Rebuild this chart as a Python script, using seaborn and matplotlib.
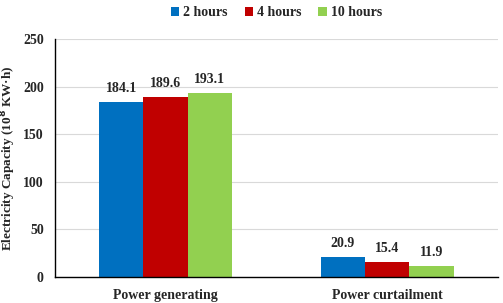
import matplotlib
matplotlib.use("Agg")
import matplotlib.pyplot as plt
import seaborn as sns
import pandas as pd

categories = ["Power generating", "Power curtailment"]
series = ["2 hours", "4 hours", "10 hours"]
values_2h = [184.1, 20.9]
values_4h = [189.6, 15.4]
values_10h = [193.1, 11.9]
colors = ["#0070C0", "#C00000", "#92D050"]

rows = []
for s, vals in zip(series, [values_2h, values_4h, values_10h]):
    for c, v in zip(categories, vals):
        rows.append({"Category": c, "Series": s, "Value": v})
df = pd.DataFrame(rows)

sns.set_style("white")
plt.rcParams["font.family"] = ["Liberation Serif", "DejaVu Serif"]
plt.rcParams["font.weight"] = "bold"

fig = plt.figure(figsize=(5.03, 3.03), dpi=100)
ax = fig.add_axes([0.109, 0.086, 0.881, 0.785])
sns.barplot(data=df, x="Category", y="Value", hue="Series", palette=colors,
            width=0.6, gap=0, saturation=1, ax=ax, errorbar=None, linewidth=0)

for cont in ax.containers:
    ax.bar_label(cont, fmt="%.1f", padding=5, fontsize=10, fontweight="bold")

ax.set_ylim(0, 250)
ax.set_xlim(-0.5, 1.5)
ax.set_yticks([0, 50, 100, 150, 200, 250])
ax.tick_params(axis="y", length=0, labelsize=10, pad=8)
ax.tick_params(axis="x", which="major", length=0, labelsize=10, pad=9)
ax.set_xticks([-0.5, 0.5, 1.5], minor=True)
ax.tick_params(axis="x", which="minor", length=4, direction="out", color="black")
ax.yaxis.grid(True, color="#D9D9D9", linewidth=0.8)
ax.set_axisbelow(True)
for sp in ["top", "right"]:
    ax.spines[sp].set_visible(False)
for sp in ["left", "bottom"]:
    ax.spines[sp].set_color("black")
    ax.spines[sp].set_linewidth(1.0)
ax.set_xlabel("")
ax.set_ylabel("Electricity Capacity (10$^8$ KW·h)", fontsize=9.5, fontweight="bold")
ax.yaxis.set_label_coords(-0.082, 0.5)

ax.legend(loc="center", bbox_to_anchor=(0.5, 1.11), ncol=3, frameon=False,
          handlelength=0.6, handleheight=0.6, handletextpad=0.3,
          columnspacing=1.2, prop={"weight": "bold", "size": 10})

fig.savefig("out.png", dpi=100)
